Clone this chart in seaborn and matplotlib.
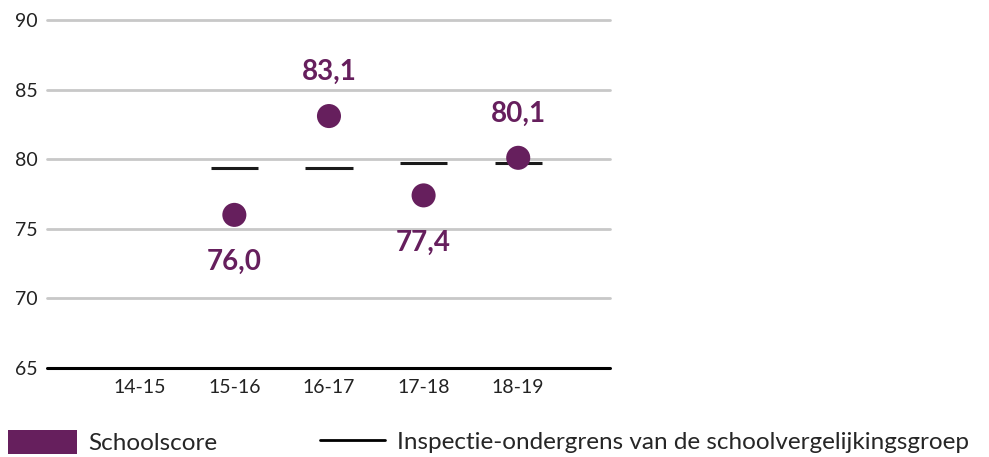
import matplotlib
matplotlib.use("Agg")
import matplotlib.pyplot as plt
from matplotlib.patches import Patch
from matplotlib.lines import Line2D
import seaborn as sns
import pandas as pd
import numpy as np

years = ["14-15", "15-16", "16-17", "17-18", "18-19"]
schoolscore = [np.nan, 76.0, 83.1, 77.4, 80.1]
ondergrens = [np.nan, 79.4, 79.4, 79.7, 79.7]
label_above = [False, False, True, False, True]
y_ticks = [65, 70, 75, 80, 85, 90]

purple = "#661f5d"

sns.set_theme(style="white")
plt.rcParams["font.family"] = ["Lato", "DejaVu Sans"]

df = pd.DataFrame({"jaar": years, "score": schoolscore, "grens": ondergrens})

W, H = 989, 457
fig = plt.figure(figsize=(W / 100, H / 100), dpi=100)
ax = fig.add_axes([47 / W, 1 - 368 / H, (610 - 47) / W, 348 / H])

for y in y_ticks[1:]:
    ax.axhline(y, color="#c8c8c8", lw=2, zorder=0, clip_on=False)
ax.axhline(65, color="black", lw=2.2, zorder=1, clip_on=False)

# threshold segments centred on each school year
pos = np.arange(len(years))
mask = ~np.isnan(df["grens"].to_numpy())
ax.hlines(df["grens"][mask], pos[mask] - 0.25, pos[mask] + 0.25,
          color="#1a1a1a", lw=2.2, zorder=2)

sns.scatterplot(data=df, x="jaar", y="score", ax=ax, color=purple,
                s=300, edgecolor="none", zorder=3, legend=False)

for i, (v, up) in enumerate(zip(schoolscore, label_above)):
    if np.isnan(v):
        continue
    txt = f"{v:.1f}".replace(".", ",")
    off = 32 if up else -34
    ax.annotate(txt, (i, v), xytext=(0, off), textcoords="offset points",
                ha="center", va="center", fontsize=20, fontweight="bold",
                color=purple)

ax.set_xlim(-0.98, 4.97)
ax.set_ylim(65, 90)
ax.set_yticks(y_ticks)
ax.set_yticklabels([str(t) for t in y_ticks])
ax.set_xlabel("")
ax.set_ylabel("")
ax.tick_params(axis="both", length=0, labelsize=14, colors="#222222")
ax.tick_params(axis="y", pad=7)
ax.tick_params(axis="x", pad=8)
for s in ax.spines.values():
    s.set_visible(False)

fs = 17.5
fpx = fs * 100 / 72
leg1 = fig.legend(handles=[Patch(facecolor=purple, edgecolor="none",
                                 label="Schoolscore")],
                  loc="center left", bbox_to_anchor=(8 / W, 1 - 442 / H),
                  frameon=False, fontsize=fs, borderpad=0, borderaxespad=0,
                  handlelength=69 / fpx, handleheight=29 / fpx,
                  handletextpad=11 / fpx)
leg2 = fig.legend(handles=[Line2D([0], [0], color="black", lw=2,
                                  label="Inspectie-ondergrens van de schoolvergelijkingsgroep")],
                  loc="center left", bbox_to_anchor=(320 / W, 1 - 442 / H),
                  frameon=False, fontsize=fs, borderpad=0, borderaxespad=0,
                  handlelength=65 / fpx, handletextpad=12 / fpx)

fig.savefig("out.png", dpi=100)
